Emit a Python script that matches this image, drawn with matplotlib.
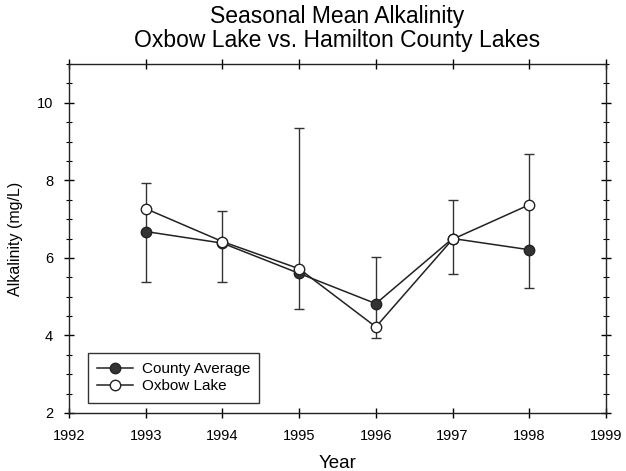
import matplotlib.pyplot as plt
from matplotlib.ticker import MultipleLocator

plt.rcParams['font.family'] = ['Liberation Sans', 'DejaVu Sans']

# Data
years = [1993, 1994, 1995, 1996, 1997, 1998]
county_avg = [6.68, 6.38, 5.60, 4.82, 6.50, 6.21]
oxbow = [7.27, 6.42, 5.72, 4.22, 6.48, 7.37]
err_upper = [7.94, 7.20, 9.34, 6.03, 7.48, 8.67]
err_lower = [5.39, 5.39, 4.67, 3.93, 5.59, 5.23]

yerr = [[c - lo for c, lo in zip(county_avg, err_lower)],
        [hi - c for c, hi in zip(county_avg, err_upper)]]

fig = plt.figure(figsize=(6.26, 4.71), dpi=100)
ax = fig.add_axes([69 / 626, 1 - 413 / 471, 537 / 626, 349 / 471])

ax.errorbar(years, county_avg, yerr=yerr, fmt='none', ecolor='#333333',
            elinewidth=1.0, capsize=3.6, capthick=1.0, zorder=1)
ax.plot(years, county_avg, color='#222222', lw=1.1, marker='o', markersize=7.5,
        markerfacecolor='#333333', markeredgecolor='#222222', label='County Average', zorder=2)
ax.plot(years, oxbow, color='#222222', lw=1.1, marker='o', markersize=7.5,
        markerfacecolor='white', markeredgecolor='#222222', label='Oxbow Lake', zorder=3)

ax.set_xlim(1992, 1999)
ax.set_ylim(2, 11)
ax.xaxis.set_major_locator(MultipleLocator(1))
ax.yaxis.set_minor_locator(MultipleLocator(0.5))
ax.set_yticks([2, 4, 6, 8, 10])
ax.tick_params(which='both', direction='inout', top=True, right=True, labelsize=10.5)
ax.tick_params(axis='x', which='major', length=7, width=1, pad=8)
ax.tick_params(axis='y', which='major', length=7, width=1, pad=8)
ax.tick_params(which='minor', length=4, width=0.8)
for s in ax.spines.values():
    s.set_linewidth(1.0)
    s.set_color('#222222')

ax.set_xlabel('Year', fontsize=13.5, labelpad=9)
ax.set_ylabel('Alkalinity (mg/L)', fontsize=11.5, labelpad=10)
ax.set_title('Seasonal Mean Alkalinity\nOxbow Lake vs. Hamilton County Lakes',
             fontsize=16.5, pad=12, linespacing=1.05)

leg = ax.legend(loc='lower left', bbox_to_anchor=(0.036, 0.03), fontsize=11,
                frameon=True, fancybox=False, edgecolor='black', handlelength=2.3,
                borderpad=0.6, labelspacing=0.2, handletextpad=0.6, borderaxespad=0)
leg.get_frame().set_linewidth(1.0)

fig.savefig('out.png', dpi=100)
